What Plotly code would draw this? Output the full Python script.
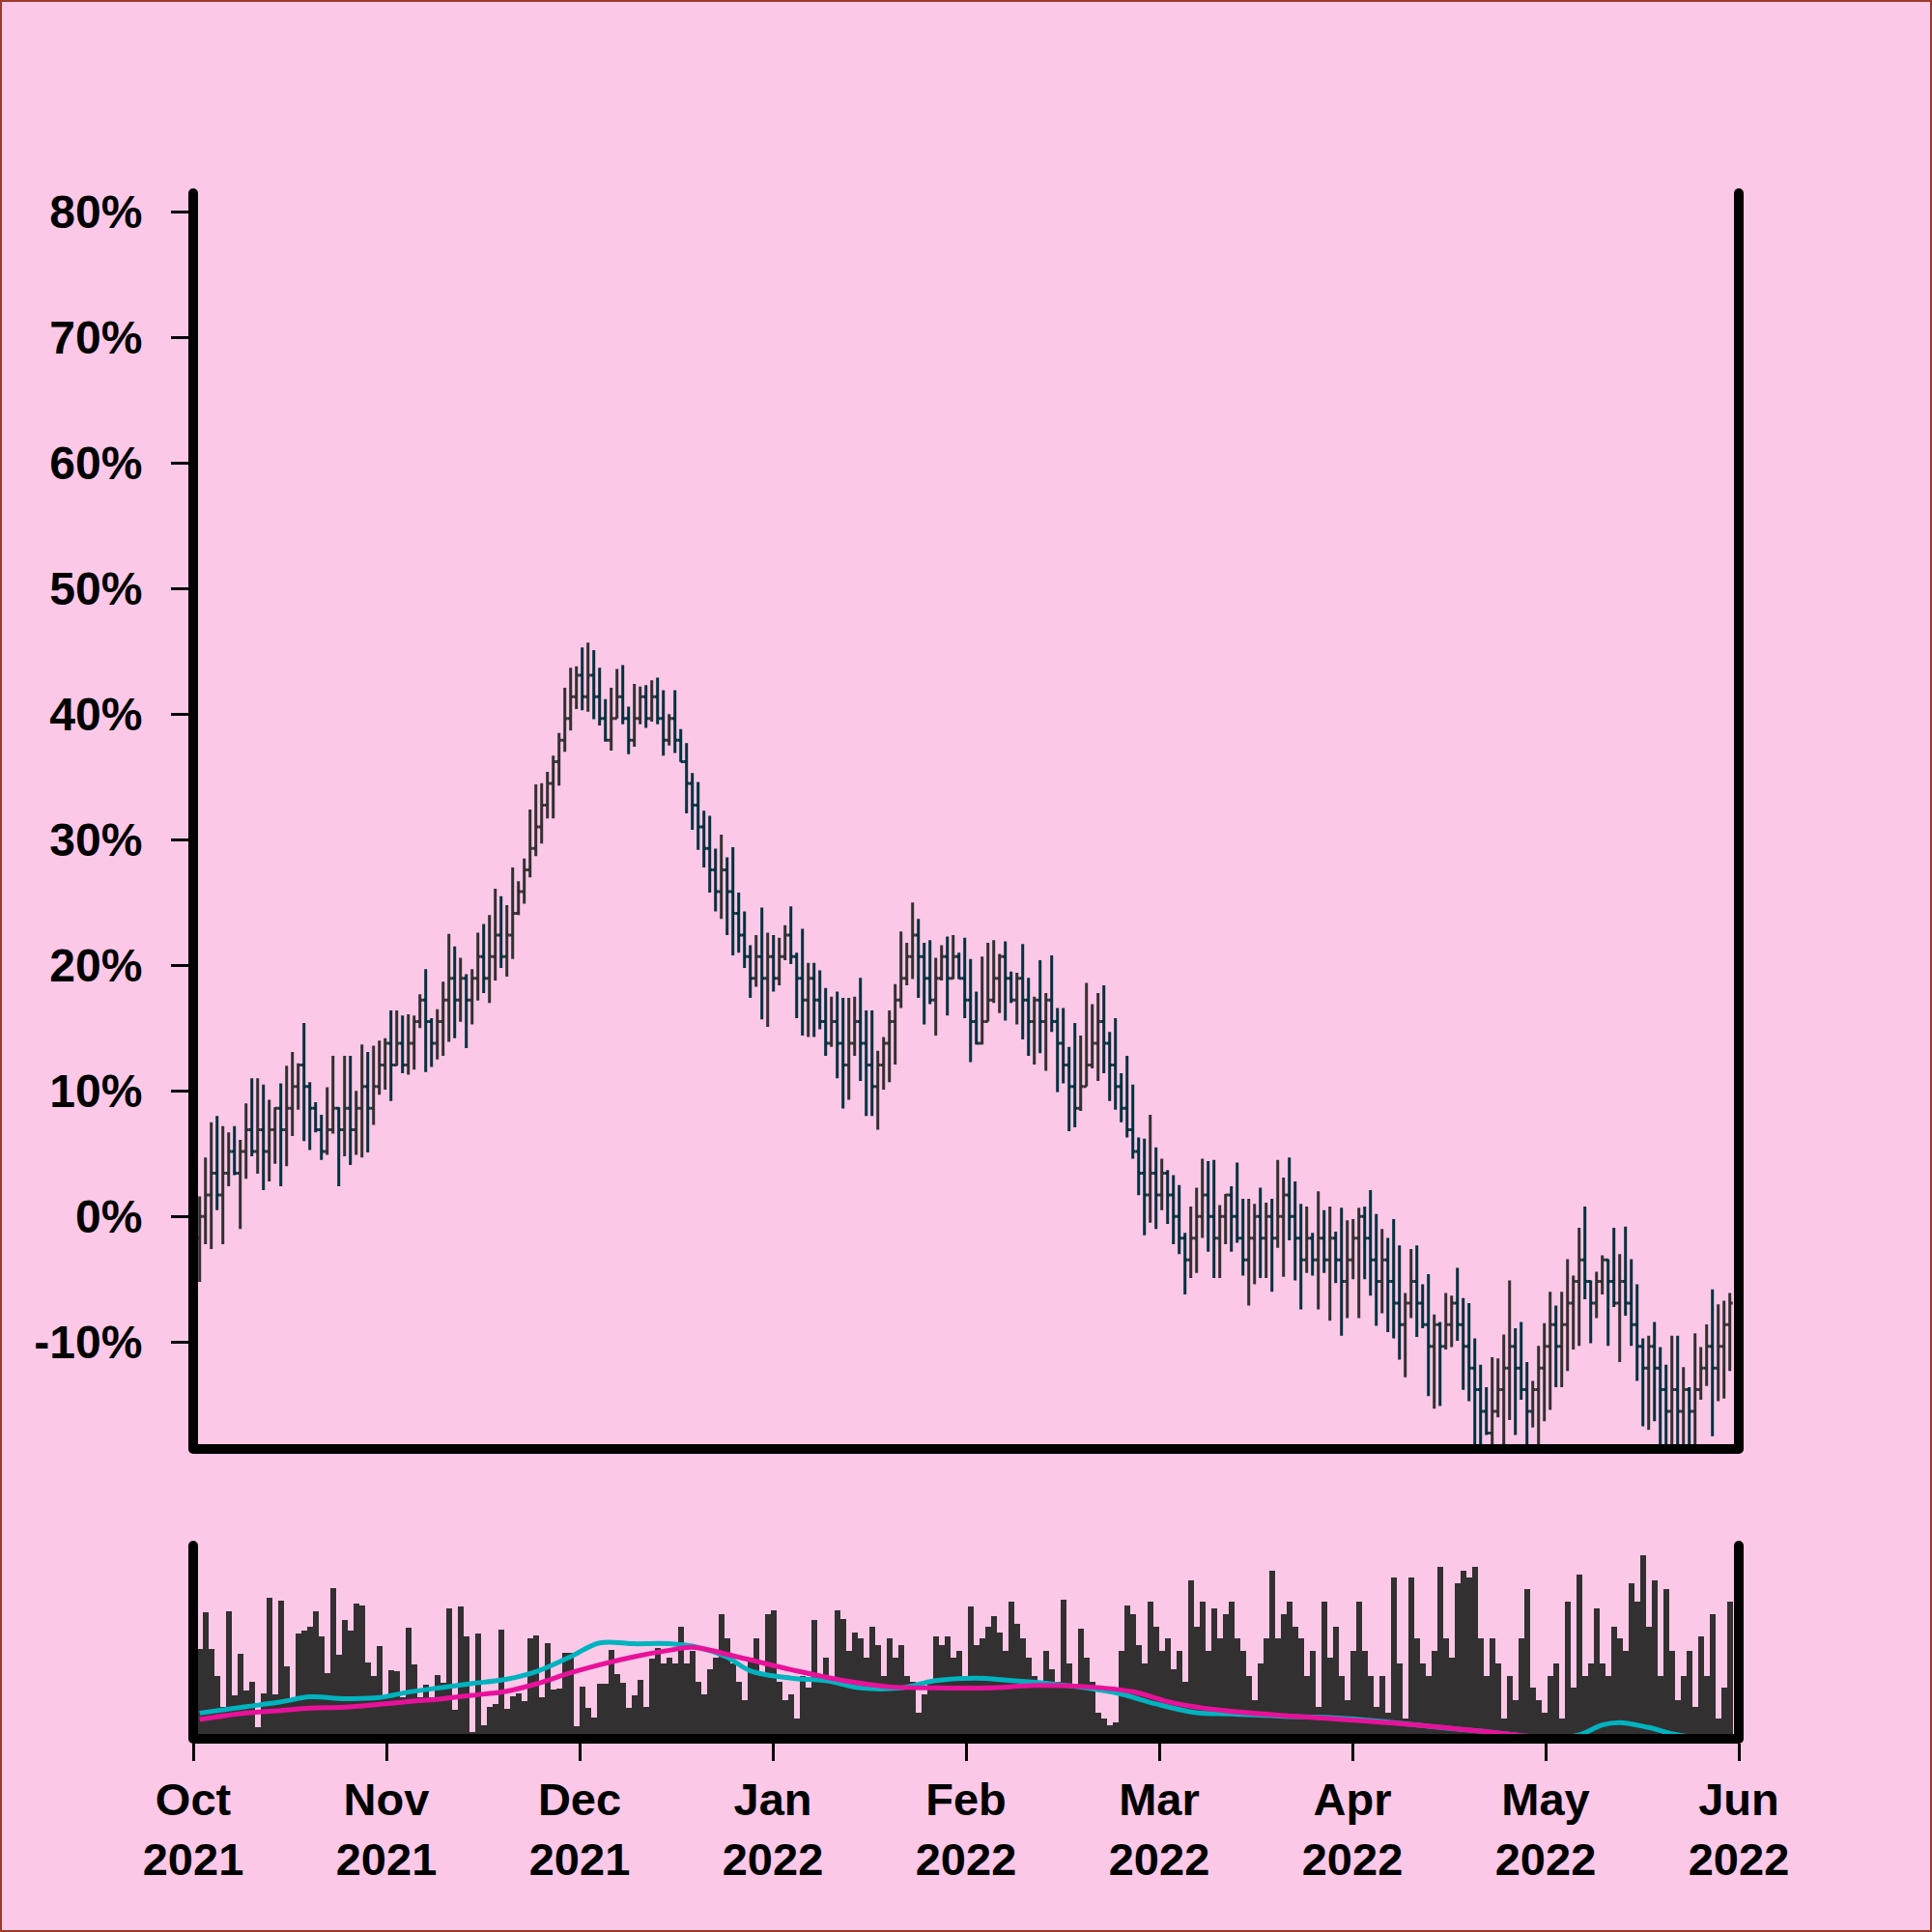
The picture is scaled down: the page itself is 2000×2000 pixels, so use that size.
import plotly.graph_objects as go

# ---------------- data (percent change) ----------------
close_pct = [
    0.00, 1.72, 3.45, 1.72, 3.45, 5.17, 3.45, 5.17, 6.90, 5.17,
    6.90, 5.17, 6.90, 8.62, 6.90, 8.62, 10.34, 12.07, 10.34, 8.62,
    6.90, 5.17, 6.90, 8.62, 6.90, 8.62, 6.90, 8.62, 10.34, 8.62,
    10.34, 12.07, 13.79, 12.07, 13.79, 12.07, 13.79, 15.52, 17.24, 15.52,
    13.79, 15.52, 17.24, 18.97, 17.24,
    18.97, 17.24, 18.97, 20.69, 18.97, 20.69, 22.41, 20.69, 22.41, 24.14,
    25.86, 27.59, 29.31, 31.03, 32.76, 34.48, 36.21, 37.93, 39.66, 41.38,
    43.10, 41.38, 43.10, 41.38, 39.66, 37.93, 39.66, 41.38, 39.66, 37.93,
    39.66, 41.38, 39.66, 41.38, 39.66, 37.93, 39.66, 37.93, 36.21, 34.48,
    32.76, 31.03, 29.31, 27.59, 25.86,
    27.59, 25.86, 24.14, 22.41, 20.69, 18.97, 20.69, 18.97, 20.69, 18.97,
    20.69, 22.41, 20.69, 18.97, 17.24, 18.97, 17.24, 15.52, 13.79, 15.52,
    13.79, 12.07, 13.79, 15.52, 13.79, 12.07, 10.34, 12.07, 13.79, 15.52,
    17.24, 18.97, 20.69, 22.41, 20.69, 18.97, 17.24, 18.97, 20.69, 18.97,
    20.69, 18.97, 17.24, 15.52, 13.79,
    15.52, 17.24, 18.97, 20.69, 18.97, 17.24, 18.97, 17.24, 15.52, 17.24,
    15.52, 17.24, 15.52, 13.79, 12.07, 10.34, 8.62, 10.34, 12.07, 13.79,
    15.52, 13.79, 12.07, 10.34, 8.62, 6.90, 5.17, 3.45, 1.72, 3.45,
    1.72, 3.45, 1.72, 0.00, -1.72, -3.45, -1.72, 0.00, 1.72, 0.00,
    -1.72, 0.00, 1.72, 0.00, -1.72,
    -3.45, -1.72, 0.00, -1.72, 0.00, -1.72, 0.00, 1.72, 0.00, -1.72,
    -3.45, -1.72, -3.45, -1.72, -3.45, -1.72, -3.45, -5.17, -3.45, -1.72,
    0.00, -1.72, -3.45, -5.17, -3.45, -5.17, -6.90, -8.62, -6.90, -5.17,
    -6.90, -8.62, -10.34, -8.62, -10.34, -8.62, -6.90, -8.62, -10.34, -12.07,
    -13.79, -15.52, -17.24, -15.52, -13.79,
    -12.07, -10.34, -12.07, -13.79, -15.52, -13.79, -12.07, -10.34, -8.62, -10.34,
    -8.62, -6.90, -5.17, -3.45, -5.17, -6.90, -5.17, -3.45, -5.17, -6.90,
    -5.17, -6.90, -8.62, -10.34, -12.07, -10.34, -12.07, -13.79, -15.52, -13.79,
    -15.52, -13.79, -15.52, -13.79, -12.07, -10.34, -12.07, -10.34, -8.62, -6.90,
]
first_open_pct = -1.72

high_pct = [
    1.6, 4.7, 7.5, 8.0, 7.2, 6.7, 7.2, 6.1, 9.0, 11.0, 11.0, 10.5, 9.3, 8.7, 10.6, 12.0, 13.1, 12.2, 15.4, 10.7,
    9.1, 8.1, 10.3, 12.8, 8.7, 12.8, 12.8, 10.0, 13.7, 13.1, 13.6, 14.0, 14.2, 16.4, 16.4, 16.0, 16.1, 16.0, 17.7, 19.7,
    15.8, 16.5, 18.7, 22.5, 21.5,
    20.6, 19.3, 19.7, 22.6, 23.3, 24.0, 26.1, 25.5, 24.8, 27.8, 26.7, 28.5, 32.4, 34.4, 34.5, 35.4, 36.7, 38.5, 42.1, 43.7,
    43.8, 45.3, 45.7, 45.1, 43.7, 41.2, 42.1, 43.6, 43.9, 40.6, 42.4, 42.2, 42.3, 42.7, 42.9, 41.9, 40.0, 41.9, 38.8, 37.7,
    35.3, 34.6, 32.3, 31.9, 29.3,
    30.4, 28.6, 29.4, 25.8, 24.3, 21.6, 22.4, 24.6, 22.6, 22.4, 22.2, 23.2, 24.7, 21.0, 22.9, 20.2, 20.2, 19.6, 18.2, 17.5,
    17.9, 17.4, 17.4, 17.5, 19.0, 16.4, 16.4, 13.2, 14.3, 16.4, 18.5, 22.7, 21.8, 25.0, 23.7, 21.8, 22.0, 20.6, 21.6, 22.3,
    22.4, 21.0, 22.2, 20.5, 17.9,
    20.7, 21.8, 22.0, 20.9, 21.9, 19.5, 19.4, 21.7, 19.0, 17.5, 20.4, 17.8, 20.8, 16.6, 16.6, 13.5, 15.4, 14.4, 18.6, 16.9,
    17.8, 18.4, 14.7, 15.8, 11.4, 12.8, 10.5, 6.3, 6.2, 8.1, 5.5, 4.6, 3.7, 3.3, 2.5, -1.3, 0.8, 2.3, 4.6, 4.4,
    4.5, 0.9, 1.8, 2.4, 4.3,
    1.4, 1.4, 1.0, 2.3, 1.1, 1.4, 4.5, 3.1, 4.7, 2.8, 1.0, 0.8, -1.3, 2.0, 0.5, 0.8, -1.2, 0.7, -0.3, -0.2,
    0.7, 0.8, 2.1, 0.2, -1.0, -1.7, -0.2, -2.3, -6.1, -2.6, -2.3, -5.4, -4.6, -7.8, -8.4, -6.1, -6.3, -4.1, -6.5, -6.9,
    -9.7, -11.8, -13.6, -11.2, -11.3,
    -9.4, -5.1, -8.9, -8.4, -11.6, -13.1, -10.3, -8.5, -6.0, -7.1, -6.0, -3.4, -4.7, -0.9, 0.8, -5.1, -4.4, -3.1, -3.4, -0.9,
    -3.0, -0.8, -3.4, -5.4, -9.7, -9.5, -8.4, -10.4, -11.8, -9.5, -9.5, -12.0, -13.6, -9.3, -10.4, -8.6, -5.8, -7.0, -6.7, -6.1,
]

low_pct = [
    -5.2, -2.2, -2.6, 0.5, -2.2, 2.4, 3.3, -1.0, 3.0, 4.8, 3.4, 2.1, 2.8, 4.2, 2.4, 4.0, 6.4, 8.5, 6.0, 5.3,
    6.7, 4.5, 4.9, 6.6, 2.4, 4.8, 4.1, 4.9, 4.7, 5.1, 7.3, 9.7, 10.1, 9.2, 12.0, 11.4, 11.3, 11.7, 15.0, 11.5,
    11.9, 12.5, 12.8, 13.9, 14.2,
    15.5, 13.4, 15.3, 17.2, 17.8, 17.0, 18.8, 19.8, 19.1, 20.5, 24.0, 24.9, 27.0, 28.7, 29.7, 31.7, 31.7, 34.3, 37.0, 38.7,
    40.4, 40.3, 40.2, 39.6, 39.1, 37.8, 37.1, 39.7, 39.2, 36.8, 37.4, 39.2, 38.9, 39.4, 39.2, 36.7, 37.5, 36.9, 36.2, 32.1,
    30.8, 29.2, 27.8, 25.8, 24.3,
    23.7, 22.4, 20.8, 21.0, 19.8, 17.4, 18.3, 15.7, 15.1, 17.9, 18.4, 20.4, 20.1, 15.8, 14.4, 14.3, 14.3, 14.9, 12.8, 13.5,
    11.0, 8.6, 9.3, 12.8, 10.8, 8.0, 8.0, 6.9, 10.1, 10.7, 12.1, 16.6, 18.4, 18.9, 17.4, 15.3, 16.9, 14.4, 18.8, 16.0,
    18.9, 18.9, 15.8, 12.3, 13.7,
    13.7, 15.7, 17.0, 16.2, 15.6, 17.0, 15.3, 14.1, 12.8, 12.1, 13.0, 11.6, 14.7, 9.9, 10.6, 6.8, 7.1, 8.4, 11.0, 11.8,
    10.8, 11.4, 9.2, 8.5, 7.5, 6.3, 4.6, 1.7, -1.5, -0.5, -1.0, 0.5, -0.6, -2.2, -3.0, -6.2, -4.9, -4.5, -1.7, -2.8,
    -4.9, -4.9, -2.2, -2.8, -2.1,
    -4.7, -7.1, -5.4, -4.9, -4.9, -6.0, -2.5, -4.8, -1.9, -5.1, -7.4, -4.5, -4.7, -7.4, -4.5, -8.3, -5.3, -9.5, -8.1, -5.0,
    -8.1, -5.0, -6.3, -8.7, -7.7, -9.2, -9.7, -11.4, -12.8, -8.1, -9.6, -8.9, -14.3, -15.3, -15.1, -10.6, -10.4, -9.9, -13.8, -14.7,
    -19.6, -19.6, -17.4, -19.6, -16.0,
    -19.6, -16.2, -17.4, -14.6, -19.6, -16.8, -19.6, -16.3, -15.4, -13.6, -13.6, -12.3, -10.6, -10.3, -6.6, -10.1, -8.1, -6.2, -10.3, -7.2,
    -11.6, -7.9, -10.3, -13.1, -16.7, -17.0, -16.3, -19.6, -19.6, -19.6, -19.6, -19.6, -19.6, -19.6, -14.6, -13.5, -17.5, -14.7, -14.5, -12.3,
]

volume = [
    46.7, 65.3, 46.7, 32.5, 16.7, 65.8, 22.5, 43.8, 25.0, 29.5, 5.8, 23.7, 73.0, 23.0, 71.5, 37.5, 20.0, 54.5, 55.8, 58.2,
    66.2, 53.0, 34.2, 77.8, 43.3, 61.5, 56.2, 69.8, 68.8, 39.5, 32.3, 47.8, 22.5, 35.5, 35.0, 21.7, 57.5, 38.3, 21.7, 27.8,
    21.7, 32.8, 29.0, 67.3, 14.8, 68.7, 52.8, 3.3, 54.5, 7.2, 16.3, 18.0, 56.3, 15.3, 22.2, 23.5, 19.5, 52.0, 53.3, 21.7,
    49.7, 25.3, 26.2, 44.5, 44.7, 6.7, 27.2, 16.2, 10.8, 28.3, 28.3, 45.8, 33.3, 28.8, 16.2, 22.5, 30.5, 16.7, 41.7, 47.0,
    39.0, 42.2, 39.0, 58.2, 39.0, 45.4, 29.5, 23.1, 35.8,
    42.2, 64.5, 51.8, 39.0, 29.5, 19.9, 42.2, 51.8, 32.6, 64.5,
    66.5, 29.5, 19.9, 23.1, 10.3, 32.6, 26.3, 61.4, 32.6, 42.2,
    29.5, 66.5, 62.0, 45.4, 55.0, 51.8, 42.2, 58.2, 48.6, 32.6,
    51.8, 42.2, 48.6, 32.6, 29.5, 13.5, 23.1, 29.5, 53.1, 48.6,
    53.1, 42.2, 45.4, 32.6, 68.4, 48.6, 51.8, 58.2, 63.3, 55.0,
    45.4, 70.9, 59.5, 51.8, 42.2, 32.6, 26.3, 45.4, 35.8, 29.5,
    72.2, 39.0, 26.3, 56.9, 42.2, 29.5, 13.5, 10.3, 7.2, 8.4,
    45.4, 69.0, 64.5, 48.6, 39.0, 70.9, 58.2, 45.4, 51.8, 35.8,
    45.4, 29.5, 81.8, 58.2, 70.9, 45.4, 67.7, 51.8, 64.5, 70.9,
    51.8, 45.4, 32.6, 19.9, 39.0, 51.8, 86.9, 51.8, 64.5, 70.9,
    58.2, 51.8, 32.6, 45.4, 16.7, 70.9, 42.2, 58.2, 32.6, 19.9,
    45.4, 70.9, 45.4, 32.6, 16.7, 32.6, 13.5, 83.7, 39.0, 10.3,
    83.7, 51.8, 39.0, 32.6, 45.4, 88.8, 51.8, 42.2, 80.5, 86.9,
    83.7, 88.8, 51.8, 32.6, 51.8, 39.0, 10.3, 32.6, 19.9, 51.8,
    77.3, 26.3, 19.9, 13.5, 32.6, 39.0, 10.3, 70.9, 26.3, 85.0,
    32.6, 39.0, 67.7, 39.0, 32.6, 58.2, 51.8, 45.4, 80.5, 70.9,
    95.2, 58.2, 81.8, 32.6, 77.3, 45.4, 19.9, 32.6, 45.4, 16.7,
    53.1, 32.6, 64.5, 10.3, 26.3, 70.9,
]

ma_fast_idx = [1, 9, 15, 20, 26, 32, 37, 43, 48, 54, 59, 65, 70, 76, 82, 87, 92, 96, 103, 109, 115, 122, 128, 135, 141,
               147, 154, 160, 166, 173, 179, 188, 196, 205, 213, 222, 228, 234, 239, 243, 246, 251, 256, 265]
ma_fast = [-0.2, 3.5, 6.3, 9.2, 8.2, 8.8, 12.0, 14.8, 17.0, 19.5, 23.8, 32.6, 40.6, 40.1, 40.1, 38.0, 32.3, 24.4, 20.1,
           18.7, 14.4, 14.4, 18.7, 20.1, 18.7, 17.2, 14.4, 10.8, 5.1, 0.0, -0.7, -2.1, -2.8, -5.0, -7.9, -10.7, -12.9,
           -15.0, -12.9, -7.1, -5.7, -8.6, -12.9, -16.0]
ma_slow_idx = [1, 9, 15, 20, 26, 32, 37, 43, 48, 54, 59, 65, 70, 76, 82, 86, 94, 103, 111, 120, 128, 137, 145, 154, 162,
               169, 177, 190, 200, 211, 222, 228, 239, 265]
ma_slow = [-3.9, -0.2, 1.3, 2.6, 3.2, 4.9, 6.4, 8.2, 10.1, 12.5, 16.7, 23.2, 27.9, 32.6, 36.3, 38.0, 32.3, 25.1, 19.4,
           15.1, 14.4, 14.4, 15.8, 15.1, 12.2, 5.7, 1.5, -2.1, -4.3, -7.1, -10.7, -12.9, -16.0, -18.0]

month_labels = ["Oct<br>2021", "Nov<br>2021", "Dec<br>2021", "Jan<br>2022", "Feb<br>2022",
                "Mar<br>2022", "Apr<br>2022", "May<br>2022", "Jun<br>2022"]
y_ticks = [-10, 0, 10, 20, 30, 40, 50, 60, 70, 80]
y_ticklabels = ["-10%", "0%", "10%", "20%", "30%", "40%", "50%", "60%", "70%", "80%"]

# ---------------- build ----------------
n = len(close_pct)
bar_idx = list(range(1, n + 1))
open_pct = [first_open_pct] + close_pct[:-1]
high_pct = [max(h, o, c) for h, o, c in zip(high_pct, open_pct, close_pct)]
low_pct = [min(l, o, c) for l, o, c in zip(low_pct, open_pct, close_pct)]

x_lo, x_hi = -0.117, 266.55
tick_pos = [x_lo + (x_hi - x_lo) * k / 8 for k in range(9)]

BG = "#fcc8e7"
UP = "#333031"
DOWN = "#02313f"
FONT = dict(family="Liberation Sans", size=47, color="black", weight="bold")
YFONT = dict(family="Liberation Sans", size=48, color="black", weight="bold")
LW = 10

# plot area: x 200..1800 px, y 200..1795 px (figure 2000x2000)
PLOT_H = 1595.0
def py(pixel):
    return (1795.0 - pixel) / PLOT_H

MAIN_DOM = [py(1495), 1.0]           # x-axis line centred at 1500
VOL_DOM = [0.0, py(1600)]            # x-axis line centred at 1800
MAIN_LINE_BOTTOM = py(1500)
VOL_LINE_BOTTOM = py(1800)

fig = go.Figure()
fig.add_trace(go.Ohlc(
    x=bar_idx, open=open_pct, high=high_pct, low=low_pct, close=close_pct,
    increasing=dict(line=dict(color=UP, width=3)),
    decreasing=dict(line=dict(color=DOWN, width=3)),
    tickwidth=0.5, xaxis="x", yaxis="y", showlegend=False, hoverinfo="skip",
))
fig.add_trace(go.Bar(
    x=bar_idx, y=volume, marker=dict(color=UP, line=dict(width=0)),
    xaxis="x2", yaxis="y2", showlegend=False, hoverinfo="skip",
))
fig.add_trace(go.Scatter(
    x=ma_fast_idx, y=ma_fast, mode="lines", line=dict(color="#00b3bf", width=5, shape="spline"),
    xaxis="x2", yaxis="y3", showlegend=False, hoverinfo="skip",
))
fig.add_trace(go.Scatter(
    x=ma_slow_idx, y=ma_slow, mode="lines", line=dict(color="#e8119a", width=5, shape="spline"),
    xaxis="x2", yaxis="y3", showlegend=False, hoverinfo="skip",
))

# vertical frame lines (centred on the plot edges) and rounded caps/corners
shapes = []
for x in (0, 1):
    for y0, y1 in ((MAIN_LINE_BOTTOM, 1.0), (VOL_LINE_BOTTOM, VOL_DOM[1])):
        shapes.append(dict(type="line", xref="paper", yref="paper", x0=x, x1=x, y0=y0, y1=y1,
                           line=dict(color="black", width=LW), layer="above"))
        for yy in (y0, y1):
            shapes.append(dict(type="circle", xref="paper", yref="paper", xsizemode="pixel", ysizemode="pixel",
                               xanchor=x, yanchor=yy, x0=-LW / 2, x1=LW / 2, y0=-LW / 2, y1=LW / 2,
                               fillcolor="black", line=dict(width=0), layer="above"))
shapes.append(dict(type="rect", xref="paper", yref="paper",
                   x0=(1 - 200) / 1600, x1=(1999 - 200) / 1600, y0=py(1999), y1=py(1),
                   line=dict(color="#9a3b2c", width=2), fillcolor="rgba(0,0,0,0)", layer="above"))

fig.update_layout(
    width=2000, height=2000,
    paper_bgcolor=BG, plot_bgcolor=BG,
    margin=dict(l=200, r=200, t=200, b=205),
    font=FONT,
    bargap=0,
    showlegend=False,
    xaxis=dict(domain=[0, 1], anchor="y", range=[x_lo, x_hi], ticks="", showticklabels=False,
               rangeslider=dict(visible=False), showline=True, linewidth=LW, linecolor="black",
               showgrid=False, zeroline=False),
    yaxis=dict(domain=MAIN_DOM, anchor="x", range=[-18.13, 81.48], tickvals=y_ticks, ticktext=y_ticklabels,
               ticks="outside", ticklen=22, tickwidth=3, tickcolor="black", tickfont=YFONT,
               ticklabelstandoff=20, showline=False, showgrid=False, zeroline=False),
    xaxis2=dict(domain=[0, 1], anchor="y2", range=[x_lo, x_hi], tickvals=tick_pos, ticktext=month_labels,
                ticks="outside", ticklen=18, tickwidth=3, tickcolor="black", tickfont=FONT,
                showline=True, linewidth=LW, linecolor="black", showgrid=False, zeroline=False),
    yaxis2=dict(domain=VOL_DOM, anchor="x2", range=[2.5, 100], ticks="", showticklabels=False,
                showline=False, showgrid=False, zeroline=False),
    yaxis3=dict(overlaying="y2", anchor="x2", range=[-12.36, 97.19], visible=False),
    shapes=shapes,
)

fig.write_html("out.html", config={"displayModeBar": False},
               post_script="document.body.style.margin='0';document.body.style.overflow='hidden';")
